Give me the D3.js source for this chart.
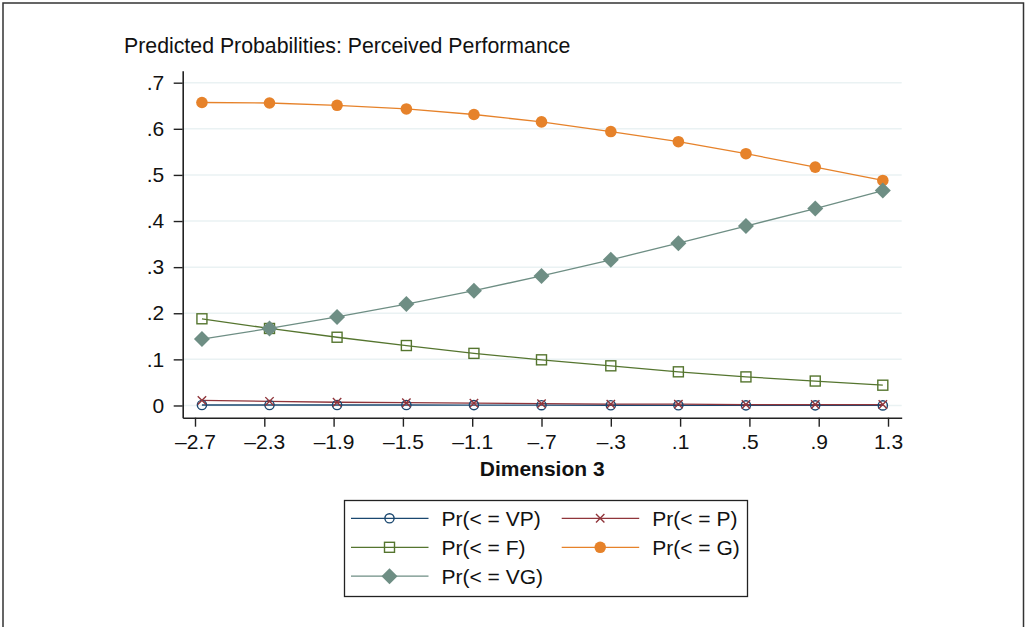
<!DOCTYPE html>
<html><head><meta charset="utf-8">
<script src="https://cdn.jsdelivr.net/npm/d3@7"></script>
<style>
html,body{margin:0;padding:0;background:#fff;}
svg{display:block;font-family:"Liberation Sans",Arial,Helvetica,sans-serif;}
</style></head>
<body>
<svg id="chart" width="1025" height="627"></svg>
<script>
const title = "Predicted Probabilities: Perceived Performance";
const xTitle = "Dimension 3";
const xValues = [-2.66, -2.27, -1.88, -1.48, -1.09, -0.70, -0.30, 0.09, 0.48, 0.88, 1.27];
const xTicks = [-2.7, -2.3, -1.9, -1.5, -1.1, -0.7, -0.3, 0.1, 0.5, 0.9, 1.3];
const yTicks = [0, 0.1, 0.2, 0.3, 0.4, 0.5, 0.6, 0.7];
const seriesNames = ["Pr(< = VP)", "Pr(< = P)", "Pr(< = F)", "Pr(< = G)", "Pr(< = VG)"];
const prVP = [0.001, 0.001, 0.001, 0.001, 0.0008, 0.0006, 0.0005, 0.0004, 0.0003, 0.0003, 0.0002];
const prP  = [0.011, 0.009, 0.007, 0.006, 0.005, 0.004, 0.003, 0.003, 0.002, 0.002, 0.002];
const prF  = [0.188, 0.167, 0.148, 0.130, 0.113, 0.099, 0.086, 0.073, 0.062, 0.053, 0.044];
const prG  = [0.657, 0.656, 0.651, 0.643, 0.631, 0.615, 0.594, 0.572, 0.546, 0.517, 0.488];
const prVG = [0.144, 0.167, 0.192, 0.220, 0.249, 0.281, 0.316, 0.352, 0.389, 0.427, 0.466];

const seriesValues = [prVP, prP, prF, prG, prVG];
const colors = ["#1a476f", "#90353b", "#55752f", "#e6822a", "#6e8e84"];
const markers = ["circleHollow", "x", "squareHollow", "circleFilled", "diamond"];

const svg = d3.select("#chart");
const FS = 21;

// outer frame
svg.append("rect").attr("x", 3).attr("y", 3).attr("width", 1020.5).attr("height", 640)
  .attr("fill", "none").attr("stroke", "#333").attr("stroke-width", 1.5);

const x = d3.scaleLinear().domain([-2.771, 1.379]).range([182.7, 901.7]);
const y = d3.scaleLinear().domain([-0.0265, 0.726]).range([417.7, 70.7]);

function fmtNum(v) {
  let s = d3.format(".1f")(Math.abs(v));
  if (s === "0.0") return "0";
  s = s.replace(/^0\./, ".");
  return (v < 0 ? "\u2013" : "") + s;
}

// gridlines
svg.append("g").selectAll("line").data(yTicks).join("line")
  .attr("x1", x.range()[0]).attr("x2", x.range()[1])
  .attr("y1", d => y(d)).attr("y2", d => y(d))
  .attr("stroke", "#eaf2f3").attr("stroke-width", 1.5);

// title
svg.append("text").attr("x", 124).attr("y", 52.5).attr("font-size", 21.3)
  .attr("fill", "#111").text(title);

// axes
const gy = svg.append("g").attr("transform", `translate(${x.range()[0]},0)`)
  .call(d3.axisLeft(y).tickValues(yTicks).tickSize(9).tickSizeOuter(0).tickPadding(9.5).tickFormat(fmtNum));
const gx = svg.append("g").attr("transform", `translate(0,${y.range()[0]})`)
  .call(d3.axisBottom(x).tickValues(xTicks).tickSize(9).tickSizeOuter(0).tickPadding(7.5).tickFormat(fmtNum));
[gy, gx].forEach(g => {
  g.selectAll("text").attr("font-size", FS).attr("font-family", "Liberation Sans, Arial, sans-serif").attr("fill", "#111");
  g.selectAll("line").attr("stroke", "#222").attr("stroke-width", 1.4);
  g.select(".domain").attr("stroke", "#222").attr("stroke-width", 1.6);
});

svg.append("text").attr("x", (x.range()[0] + x.range()[1]) / 2).attr("y", 475.5)
  .attr("text-anchor", "middle").attr("font-size", FS).attr("font-weight", "bold")
  .attr("fill", "#111").text(xTitle);

function drawMarker(g, type, cx, cy, color) {
  if (type === "circleHollow") {
    g.append("circle").attr("cx", cx).attr("cy", cy).attr("r", 4.6)
      .attr("fill", "none").attr("stroke", color).attr("stroke-width", 1.4);
  } else if (type === "circleFilled") {
    g.append("circle").attr("cx", cx).attr("cy", cy).attr("r", 5.8).attr("fill", color);
  } else if (type === "squareHollow") {
    g.append("rect").attr("x", cx - 5).attr("y", cy - 5).attr("width", 10).attr("height", 10)
      .attr("fill", "none").attr("stroke", color).attr("stroke-width", 1.4);
  } else if (type === "x") {
    const s = 4.2;
    g.append("path").attr("d", `M${cx - s},${cy - s}L${cx + s},${cy + s}M${cx - s},${cy + s}L${cx + s},${cy - s}`)
      .attr("stroke", color).attr("stroke-width", 1.4).attr("fill", "none");
  } else if (type === "diamond") {
    const s = 8;
    g.append("path").attr("d", `M${cx},${cy - s}L${cx + s},${cy}L${cx},${cy + s}L${cx - s},${cy}Z`)
      .attr("fill", color);
  }
}

const line = d3.line().x(d => x(d[0])).y(d => y(d[1]));
const plot = svg.append("g");
seriesValues.forEach((vals, i) => {
  const pts = xValues.map((xv, j) => [xv, vals[j]]);
  plot.append("path").datum(pts).attr("d", line).attr("fill", "none")
    .attr("stroke", colors[i]).attr("stroke-width", 1.3);
});
seriesValues.forEach((vals, i) => {
  const g = plot.append("g");
  xValues.forEach((xv, j) => drawMarker(g, markers[i], x(xv), y(vals[j]), colors[i]));
});

// legend
const leg = svg.append("g");
leg.append("rect").attr("x", 344.5).attr("y", 500.5).attr("width", 403).attr("height", 96)
  .attr("fill", "#fff").attr("stroke", "#222").attr("stroke-width", 1.3);
const colX = [351, 561.7];
const rowY = [518.3, 547.3, 576.2];
seriesNames.forEach((name, i) => {
  const c = i % 2, r = Math.floor(i / 2);
  const lx = colX[c], ly = rowY[r];
  leg.append("line").attr("x1", lx).attr("x2", lx + 77.5).attr("y1", ly).attr("y2", ly)
    .attr("stroke", colors[i]).attr("stroke-width", 1.3);
  drawMarker(leg, markers[i], lx + 38.5, ly, colors[i]);
  leg.append("text").attr("x", lx + 90.5).attr("y", ly + 7.5).attr("font-size", FS)
    .attr("fill", "#111").text(name);
});
</script>
</body></html>
